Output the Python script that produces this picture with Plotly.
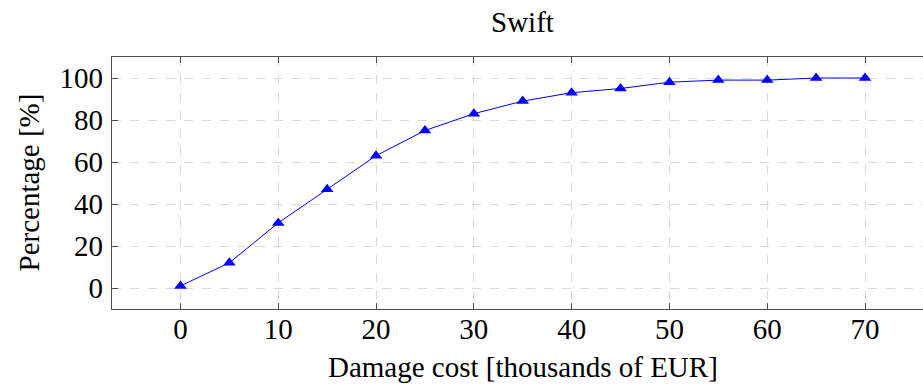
import plotly.graph_objects as go

# Cumulative share of claims below each damage cost
damage_cost = [0, 5, 10, 15, 20, 25, 30, 35, 40, 45, 50, 55, 60, 65, 70]
percentage = [1, 12, 31, 47, 63, 75, 83, 89, 93, 95, 98, 99, 99, 100, 100]

x_ticks = [0, 10, 20, 30, 40, 50, 60, 70]
y_ticks = [0, 20, 40, 60, 80, 100]

serif = "Liberation Serif"
fsize = 29
axis_col = "#4d4d4d"
grid_col = "#d9d9d9"

fig = go.Figure()
fig.add_trace(go.Scatter(
    x=damage_cost, y=percentage, mode="lines+markers",
    line=dict(color="#0000ff", width=1),
    marker=dict(symbol="triangle-up", size=11, color="#0000ff"),
    showlegend=False, cliponaxis=False,
))

fig.update_layout(
    width=923, height=387,
    margin=dict(l=111.5, r=0, t=56.6, b=77.6),
    paper_bgcolor="white", plot_bgcolor="white",
    font=dict(family=serif, size=fsize, color="black"),
)
fig.update_xaxes(
    range=[-7, 75.93], tickvals=x_ticks, ticks="inside", ticklen=6,
    tickcolor=axis_col, showline=True, linecolor=axis_col, linewidth=1.3,
    mirror="ticks", showgrid=True, gridcolor=grid_col, griddash="dash",
    gridwidth=1, zeroline=False, ticklabelstandoff=-6,
)
fig.update_yaxes(
    range=[-10, 110], tickvals=y_ticks, ticks="inside", ticklen=6,
    tickcolor=axis_col, showline=True, linecolor=axis_col, linewidth=1.3,
    mirror=False, showgrid=True, gridcolor=grid_col, griddash="dash",
    gridwidth=1, zeroline=False, ticklabelstandoff=2,
)

# Title and axis titles centred on the full axis box
fig.add_annotation(text="Swift", x=35, xref="x", y=1, yref="paper",
                   yanchor="middle", yshift=34.6, showarrow=False)
fig.add_annotation(text="Damage cost [thousands of EUR]", x=35, xref="x",
                   y=0, yref="paper", yanchor="middle", yshift=-57.6,
                   showarrow=False)
fig.add_annotation(text="Percentage [%]", x=0, xref="paper", xanchor="center",
                   xshift=-83.5, y=50, yref="y", textangle=-90,
                   showarrow=False)

fig.write_html("out.html")
